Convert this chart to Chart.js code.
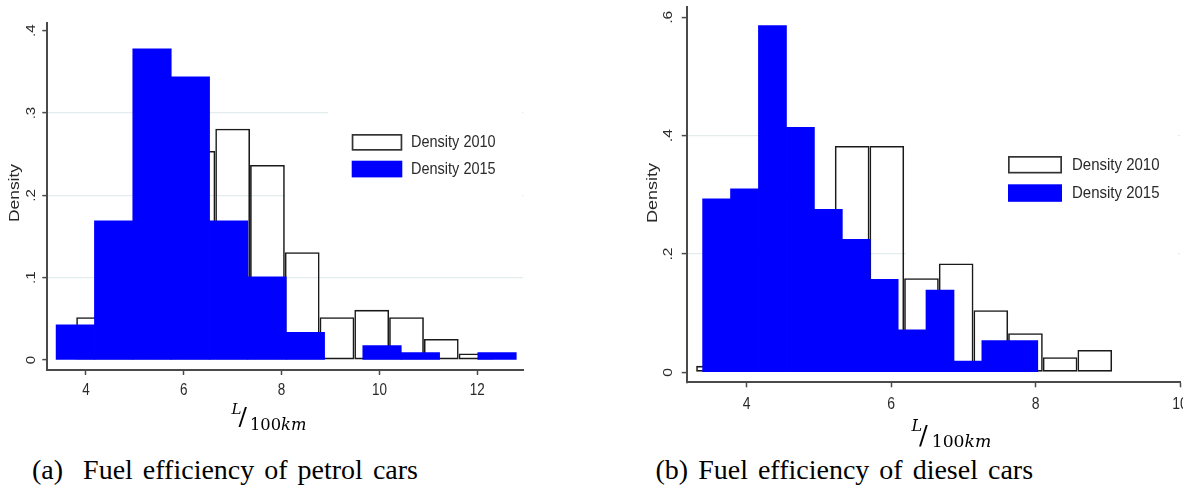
<!DOCTYPE html>
<html>
<head>
<meta charset="utf-8">
<script src="https://cdn.jsdelivr.net/npm/chart.js@4.4.1/dist/chart.umd.min.js"></script>
<style>
html, body { margin: 0; padding: 0; background: #ffffff; width: 1183px; height: 491px; overflow: hidden; position: relative; }
#c1 { position: absolute; left: 0px; top: 0px; }
#c2 { position: absolute; left: 620px; top: 0px; }
.cap { position: absolute; font-family: "Liberation Serif", "Times New Roman", serif; font-size: 28px; line-height: 28px; word-spacing: 3px; color: #000; white-space: pre; }
#capA { left: 32px; top: 456px; }
#capB { left: 655.5px; top: 456px; }
</style>
</head>
<body>
<canvas id="c1" width="560" height="450"></canvas>
<canvas id="c2" width="563" height="450"></canvas>
<div class="cap" id="capA"></div>
<div class="cap" id="capB"></div>
<script>
// ---------------- data ----------------
const seriesNames = ['Density 2010', 'Density 2015'];
const yTitleText = 'Density';
const xTitleParts = ['L', '/', '100', 'km'];
const captionTexts = ['(a)  Fuel efficiency of petrol cars', '(b) Fuel efficiency of diesel cars'];

// (a) petrol
const petrolXTicks = [4, 6, 8, 10, 12];
const petrolXTickLabels = ['4', '6', '8', '10', '12'];
const petrolYTicks = [0, 0.1, 0.2, 0.3, 0.4];
const petrolYTickLabels = ['0', '.1', '.2', '.3', '.4'];
const petrolEdges2010 = [3.800, 4.511, 5.222, 5.933, 6.644, 7.355, 8.066, 8.777, 9.488, 10.199, 10.910, 11.621, 12.332];
const petrolDensity2010 = [0.052, 0.110, 0.140, 0.254, 0.281, 0.237, 0.131, 0.052, 0.061, 0.052, 0.0255, 0.008];
const petrolEdges2015 = [3.390, 4.174, 4.958, 5.742, 6.526, 7.310, 8.094, 8.878, 9.662, 10.446, 11.230, 12.014, 12.798];
const petrolDensity2015 = [0.0425, 0.169, 0.378, 0.344, 0.169, 0.101, 0.0336, 0, 0.0174, 0.0089, 0, 0.0089];

// (b) diesel
const dieselXTicks = [4, 6, 8, 10];
const dieselXTickLabels = ['4', '6', '8', '10'];
const dieselYTicks = [0, 0.2, 0.4, 0.6];
const dieselYTickLabels = ['0', '.2', '.4', '.6'];
const dieselEdges2010 = [3.30, 3.78, 4.26, 4.74, 5.22, 5.70, 6.18, 6.66, 7.14, 7.62, 8.10, 8.58, 9.06];
const dieselDensity2010 = [0.011, 0.200, 0.300, 0.230, 0.3825, 0.3825, 0.159, 0.184, 0.105, 0.066, 0.0254, 0.0377];
const dieselEdges2015 = [3.390, 3.777, 4.163, 4.550, 4.937, 5.323, 5.710, 6.097, 6.483, 6.870, 7.257, 7.643, 8.030];
const dieselDensity2015 = [0.293, 0.310, 0.586, 0.414, 0.2755, 0.2248, 0.157, 0.0715, 0.139, 0.019, 0.0535, 0.0535];

// ---------------- helpers ----------------
document.getElementById('capA').textContent = captionTexts[0];
document.getElementById('capB').textContent = captionTexts[1];

function toBars(edges, dens) {
  return dens.map((d, i) => ({ x: (edges[i] + edges[i + 1]) / 2, y: d }));
}

const STATA_FONT = '"Liberation Sans", Arial, sans-serif';
const MATH_FONT = '"DejaVu Serif", "Liberation Serif", serif';

function drawStretched(ctx, text, x, y, size, k, align) {
  ctx.save();
  ctx.translate(x, y);
  ctx.scale(1, k);
  ctx.font = size + 'px ' + STATA_FONT;
  ctx.textAlign = align;
  ctx.textBaseline = 'middle';
  ctx.fillText(text, 0, 0);
  ctx.restore();
}
function drawRotated(ctx, text, x, y, size, k) {
  ctx.save();
  ctx.translate(x, y);
  ctx.rotate(-Math.PI / 2);
  ctx.scale(k, 1);
  ctx.font = size + 'px ' + STATA_FONT;
  ctx.textAlign = 'center';
  ctx.textBaseline = 'middle';
  ctx.fillText(text, 0, 0);
  ctx.restore();
}

const decorPlugin = {
  id: 'stataDecor',
  beforeDatasetsDraw(chart, args, o) {
    const ctx = chart.ctx;
    ctx.save();
    ctx.fillStyle = '#ffffff';
    o.legendBg.forEach(r => ctx.fillRect(r[0], r[1], r[2], r[3]));
    ctx.restore();
  },
  afterDraw(chart, args, o) {
    const ctx = chart.ctx;
    const xs = chart.scales.x, ys = chart.scales.y;
    ctx.save();
    ctx.fillStyle = o.textColor;
    // tick labels
    o.xTicks.forEach((v, i) => drawStretched(ctx, o.xTickLabels[i], xs.getPixelForValue(v), o.xLabelY, o.tickSize, o.k, 'center'));
    o.yTicks.forEach((v, i) => drawRotated(ctx, o.yTickLabels[i], o.yLabelX, ys.getPixelForValue(v), o.yTickSize, o.k));
    // y title
    drawRotated(ctx, yTitleText, o.yTitleX, o.yTitleY, o.yTitleSize, o.k);
    // x title  L / 100km
    const t = o.xTitle;
    ctx.fillStyle = '#000';
    ctx.textAlign = 'left';
    ctx.textBaseline = 'alphabetic';
    ctx.font = 'italic ' + t.lSize + 'px ' + MATH_FONT;
    ctx.fillText(xTitleParts[0], t.x, t.yL);
    ctx.font = t.slashSize + 'px ' + MATH_FONT;
    ctx.fillText(xTitleParts[1], t.slashX, t.ySlash);
    ctx.font = t.size + 'px ' + MATH_FONT;
    ctx.fillText(xTitleParts[2], t.numX, t.yS);
    const w = ctx.measureText(xTitleParts[2]).width;
    ctx.font = 'italic ' + t.size + 'px ' + MATH_FONT;
    ctx.fillText(xTitleParts[3], t.numX + w, t.yS);
    // legend
    const L = o.legend;
    const ds = chart.data.datasets;
    ctx.fillStyle = '#ffffff';
    ctx.fillRect(L.x, L.y[0], L.w, L.h);
    ctx.strokeStyle = '#333333';
    ctx.lineWidth = 1.7;
    ctx.strokeRect(L.x + 0.85, L.y[0] + 0.85, L.w - 1.7, L.h - 1.7);
    ctx.fillStyle = ds[1].backgroundColor;
    ctx.fillRect(L.x, L.y[1], L.w, L.h);
    ctx.fillStyle = o.textColor;
    ds.forEach((d, i) => drawStretched(ctx, d.label, L.textX, L.y[i] + L.h / 2, L.size, o.k, 'left'));
    ctx.restore();
  }
};

function makeChart(id, c) {
  const setTicks = vals => scale => { scale.ticks = vals.map(v => ({ value: v })); };
  const yMaxTick = c.yTicks[c.yTicks.length - 1];
  return new Chart(document.getElementById(id), {
    type: 'bar',
    data: {
      datasets: [
        {
          label: seriesNames[0], data: toBars(c.e10, c.d10), xAxisID: 'x', yAxisID: 'y', order: 2,
          backgroundColor: 'rgba(255,255,255,0)', borderColor: '#1a1a1a', borderWidth: 1.6, borderSkipped: false,
          inflateAmount: 0, barPercentage: 1, categoryPercentage: 1, grouped: false
        },
        {
          label: seriesNames[1], data: toBars(c.e15, c.d15), xAxisID: 'x2', yAxisID: 'y', order: 1,
          backgroundColor: '#0000ff', borderWidth: 0,
          inflateAmount: ctx => (ctx.raw && ctx.raw.y > 0 ? 0.4 : 0),
          barPercentage: 1, categoryPercentage: 1, grouped: false
        }
      ]
    },
    options: {
      responsive: false, animation: false, events: [],
      layout: { padding: c.padding },
      plugins: { legend: { display: false }, tooltip: { enabled: false }, stataDecor: c.deco },
      scales: {
        x: {
          type: 'linear', min: c.xMin, max: c.xMax, offset: false,
          afterBuildTicks: setTicks(c.xTicks),
          grid: { offset: false, drawOnChartArea: false, drawTicks: true, tickLength: 5, tickColor: '#4a4a4a', tickWidth: 1.5 },
          border: { display: true, color: '#4a4a4a', width: 2 },
          ticks: { display: false },
          afterFit: s => { s.height = c.xHeight; s.paddingLeft = 0; s.paddingRight = 0; }
        },
        x2: {
          type: 'linear', display: false, min: c.xMin, max: c.xMax, offset: false,
          afterBuildTicks: setTicks(c.xTicks), grid: { offset: false }
        },
        y: {
          type: 'linear', min: c.yMin, max: c.yMax,
          afterBuildTicks: setTicks(c.yTicks),
          grid: {
            color: g => (g.tick && g.tick.value > 0 && g.tick.value < yMaxTick) ? '#e4eded' : 'rgba(0,0,0,0)',
            lineWidth: 1.2, drawTicks: true, tickLength: 5, tickColor: '#4a4a4a', tickWidth: 1.5
          },
          border: { display: true, color: '#4a4a4a', width: 2 },
          ticks: { display: false },
          afterFit: s => { s.width = c.yWidth; s.paddingTop = 0; s.paddingBottom = 0; }
        }
      }
    },
    plugins: [decorPlugin]
  });
}

makeChart('c1', {
  e10: petrolEdges2010, d10: petrolDensity2010, e15: petrolEdges2015, d15: petrolDensity2015,
  xMin: 3.2086, xMax: 12.943, yMin: -0.01215, yMax: 0.4098,
  xTicks: petrolXTicks, yTicks: petrolYTicks,
  padding: { left: 0, top: 22.7, right: 36.7, bottom: 0 },
  yWidth: 47.3, xHeight: 80,
  deco: {
    textColor: '#2a2a2a', k: 1.16,
    xTicks: petrolXTicks, xTickLabels: petrolXTickLabels, xLabelY: 390.3, tickSize: 13.5,
    yTicks: petrolYTicks, yTickLabels: petrolYTickLabels, yLabelX: 31, yTickSize: 13,
    yTitleX: 15, yTitleY: 193, yTitleSize: 15,
    xTitle: { x: 231.5, yL: 414, lSize: 15, slashX: 238.5, ySlash: 425, slashSize: 25, numX: 250, yS: 430, size: 16.3 },
    legend: { x: 351.7, y: [134, 160.7], w: 50.6, h: 16.7, textX: 411, size: 14.5 },
    legendBg: [[328, 100, 194, 110], [285, 180, 50, 30]]
  }
});

makeChart('c2', {
  e10: dieselEdges2010, d10: dieselDensity2010, e15: dieselEdges2015, d15: dieselDensity2015,
  xMin: 3.169, xMax: 10.0, yMin: -0.0169, yMax: 0.6169,
  xTicks: dieselXTicks, yTicks: dieselYTicks,
  padding: { left: 0, top: 7.3, right: 3, bottom: 0 },
  yWidth: 66.7, xHeight: 67.7,
  deco: {
    textColor: '#2a2a2a', k: 1.16,
    xTicks: dieselXTicks, xTickLabels: dieselXTickLabels, xLabelY: 404.2, tickSize: 14,
    yTicks: dieselYTicks, yTickLabels: dieselYTickLabels, yLabelX: 48, yTickSize: 13.5,
    yTitleX: 33, yTitleY: 193, yTitleSize: 15.5,
    xTitle: { x: 291.5, yL: 430.5, lSize: 16, slashX: 299, ySlash: 444, slashSize: 26, numX: 311.7, yS: 447.3, size: 17.2 },
    legend: { x: 388, y: [156, 184.3], w: 54, h: 17.5, textX: 452, size: 15 },
    legendBg: [[195, 125, 363, 16], [286, 120, 272, 135]]
  }
});
</script>
</body>
</html>
